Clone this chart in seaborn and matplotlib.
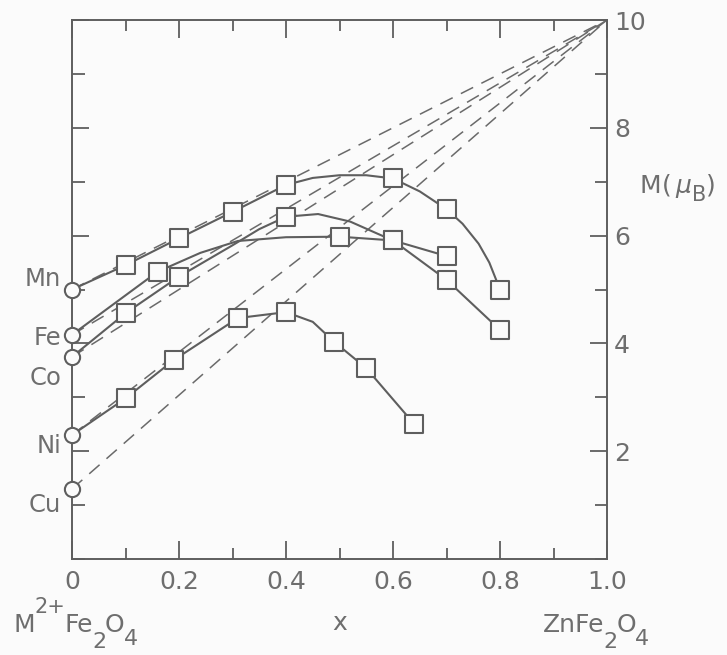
import matplotlib
matplotlib.use("Agg")
import matplotlib.pyplot as plt
import seaborn as sns
import pandas as pd
from matplotlib.ticker import MultipleLocator

sns.set_theme(style="white")
plt.rcParams['font.family'] = ['DejaVu Sans']
plt.rcParams['mathtext.fontset'] = 'dejavusans'

GRAY = '#5e5e5e'
TXT = '#6e6e6e'
BG = '#fbfbfb'

# ---- data ----
elements = ['Mn', 'Fe', 'Co', 'Ni', 'Cu']
m0 = [5.0, 4.16, 3.75, 2.3, 1.3]          # M at x = 0 (circles)
x_end = 1.0                                # dashed lines converge at ZnFe2O4 limit
m_end = 10.0

# measured points (squares)
mn_x = [0.1, 0.2, 0.3, 0.4, 0.6, 0.7, 0.8]
mn_y = [5.45, 5.95, 6.44, 6.94, 7.06, 6.49, 5.0]
fe_x = [0.16, 0.5, 0.6, 0.7]
fe_y = [5.33, 5.98, 5.91, 5.62]
co_x = [0.1, 0.2, 0.4, 0.6, 0.7, 0.8]
co_y = [4.56, 5.24, 6.35, 5.91, 5.18, 4.25]
ni_x = [0.1, 0.19, 0.31, 0.4, 0.49, 0.55, 0.64]
ni_y = [2.98, 3.69, 4.47, 4.58, 4.03, 3.54, 2.5]

# hand-drawn curves traced through the points
mn_cx = [0.0, 0.1, 0.2, 0.3, 0.4, 0.45, 0.5, 0.55, 0.6, 0.65, 0.7, 0.73, 0.76, 0.78, 0.8]
mn_cy = [5.0, 5.45, 5.95, 6.44, 6.94, 7.07, 7.12, 7.12, 7.06, 6.82, 6.49, 6.22, 5.85, 5.5, 5.0]
fe_cx = [0.0, 0.16, 0.24, 0.31, 0.4, 0.5, 0.6, 0.7]
fe_cy = [4.16, 5.33, 5.68, 5.9, 5.97, 5.98, 5.91, 5.62]
co_cx = [0.0, 0.1, 0.2, 0.3, 0.35, 0.4, 0.46, 0.52, 0.57, 0.6, 0.7, 0.8]
co_cy = [3.75, 4.56, 5.24, 5.82, 6.12, 6.35, 6.40, 6.26, 6.04, 5.91, 5.18, 4.25]
ni_cx = [0.0, 0.1, 0.19, 0.31, 0.4, 0.45, 0.49, 0.55, 0.64]
ni_cy = [2.3, 2.98, 3.69, 4.47, 4.58, 4.4, 4.03, 3.54, 2.5]

x_ticks = [0, 0.2, 0.4, 0.6, 0.8, 1.0]
x_ticklabels = ['0', '0.2', '0.4', '0.6', '0.8', '1.0']
y_ticks = [2, 4, 6, 8, 10]
y_ticklabels = ['2', '4', '6', '8', '10']

# ---- figure ----
W, H = 727, 655
fig = plt.figure(figsize=(W / 100, H / 100), dpi=100, facecolor=BG)
ax = fig.add_axes([72 / W, 1 - 559 / H, (607 - 72) / W, (559 - 20) / H])
ax.set_facecolor(BG)

# dashed theoretical lines
for el, m in zip(elements, m0):
    d = pd.DataFrame({'x': [0.0, x_end], 'y': [m, m_end]})
    sns.lineplot(data=d, x='x', y='y', ax=ax, color='#6a6a6a', lw=1.1,
                 linestyle=(0, (9, 6)), zorder=1)

curves = [(mn_cx, mn_cy), (fe_cx, fe_cy), (co_cx, co_cy), (ni_cx, ni_cy)]
for cx, cy in curves:
    d = pd.DataFrame({'x': cx, 'y': cy})
    sns.lineplot(data=d, x='x', y='y', ax=ax, color=GRAY, lw=1.5, sort=False, zorder=2)

sq = pd.DataFrame({'x': mn_x + fe_x + co_x + ni_x, 'y': mn_y + fe_y + co_y + ni_y})
sns.scatterplot(data=sq, x='x', y='y', ax=ax, marker='s', s=165,
                facecolor=BG, edgecolor=GRAY, linewidth=1.5, zorder=3)

circ = pd.DataFrame({'x': [0.0] * len(m0), 'y': m0})
sns.scatterplot(data=circ, x='x', y='y', ax=ax, marker='o', s=120,
                facecolor=BG, edgecolor=GRAY, linewidth=1.5, zorder=4, clip_on=False)

# element labels
label_y = [5.2, 4.1, 3.35, 2.1, 1.0]
for el, yy in zip(elements, label_y):
    ax.text(-0.02, yy, el, ha='right', va='center', fontsize=17.5, color=TXT)

ax.set_xlim(0, 1.0)
ax.set_ylim(0, 10)
ax.set_xlabel('')
ax.set_ylabel('')

for s in ax.spines.values():
    s.set_color(GRAY)
    s.set_linewidth(1.4)
    s.set_visible(True)

ax.set_xticks(x_ticks)
ax.set_xticklabels(x_ticklabels)
ax.xaxis.set_minor_locator(MultipleLocator(0.1))
ax.tick_params(axis='x', which='major', direction='in', length=13, width=1.3,
               colors=GRAY, labelcolor=TXT, labelsize=18, top=True, bottom=True, pad=8)
ax.tick_params(axis='x', which='minor', direction='in', length=8, width=1.3,
               colors=GRAY, top=True, bottom=True)

ax.yaxis.tick_right()
ax.set_yticks(y_ticks)
ax.set_yticklabels(y_ticklabels)
ax.yaxis.set_minor_locator(MultipleLocator(1))
ax.tick_params(axis='y', which='major', direction='in', length=12, width=1.3,
               colors=GRAY, labelcolor=TXT, labelsize=18, left=True, right=True,
               labelleft=False, labelright=True, pad=5)
ax.tick_params(axis='y', which='minor', direction='in', length=9, width=1.3,
               colors=GRAY, left=True, right=True)

renderer = fig.canvas.get_renderer()


def rich(x_px, base_px, pieces):
    """pieces: (string, fontsize, dy_px, extra_gap_px) ; base_px from top of figure"""
    x = x_px
    for s, fs, dy, gap in pieces:
        t = fig.text(x / W, 1 - (base_px - dy) / H, s, fontsize=fs, color=TXT,
                     ha='left', va='baseline')
        bb = t.get_window_extent(renderer=renderer)
        x += bb.width - 1 + gap


rich(14, 632, [('M', 18, 0, 0), ('2+', 15, 19, 0), ('Fe', 18, 0, 0), ('2', 16, -16, 0),
               ('O', 18, 0, 0), ('4', 16, -13, 0)])
rich(332, 630, [('x', 18, 0, 0)])
rich(543, 632, [('ZnFe', 18, 0, 0), ('2', 16, -16, 0), ('O', 18, 0, 0), ('4', 16, -13, 0)])
rich(640, 193, [('M', 18, 0, 1), ('(', 18, 0, 5), (r'$\mu$', 18, 0, 0), ('B', 15, -8, 1),
                (')', 18, 0, 0)])

fig.savefig('out.png', dpi=100, facecolor=fig.get_facecolor())
